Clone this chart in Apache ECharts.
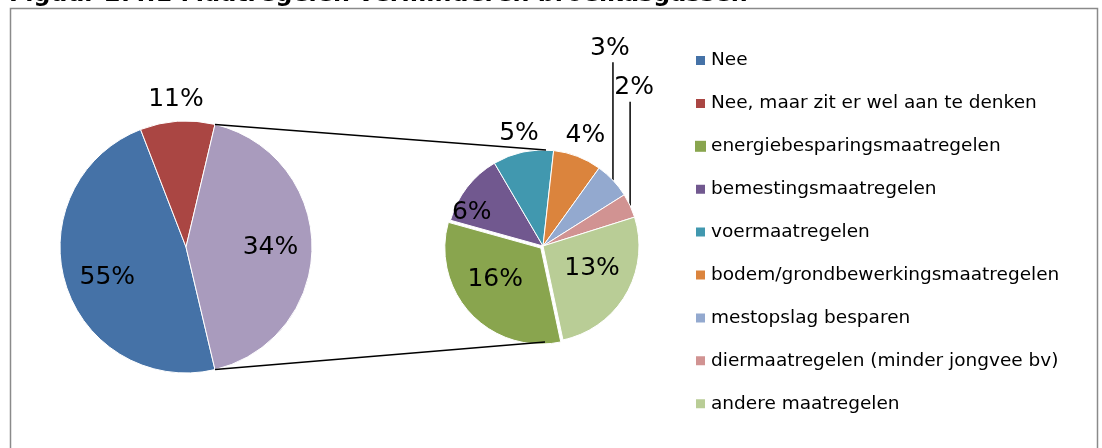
<!DOCTYPE html>
<html>
<head>
<meta charset="utf-8">
<script src="https://cdn.jsdelivr.net/npm/echarts@6/dist/echarts.min.js"></script>
<style>
html, body { margin: 0; padding: 0; background: #fff; }
#main { width: 1102px; height: 448px; }
</style>
</head>
<body>
<div id="main"></div>
<script>
// gegevens
var leftNames = ['Nee', 'Nee, maar zit er wel aan te denken', 'Wel maatregelen'];
var leftPct = [55, 11, 34];
var rightNames = ['energiebesparingsmaatregelen', 'bemestingsmaatregelen', 'voermaatregelen',
	'bodem/grondbewerkingsmaatregelen', 'mestopslag besparen', 'diermaatregelen (minder jongvee bv)',
	'andere maatregelen'];
var rightPct = [16, 6, 5, 4, 3, 2, 13];

// opmaak
var leftColors = ['#4572A7', '#AA4643', '#A99BBD'];
var rightColors = ['#89A54E', '#71588F', '#4198AF', '#DB843D', '#93A9CF', '#D19392', '#B9CD96'];
var leftLabelK = [0.67, 1.17, 0.67];
var leftLabelDA = [4, 0, 0];
var rightLabelK = [0.61, 0.82, 1.2, 1.23, 0, 0, 0.56];
var rightLabelDA = [-8, 12.5, 0, 0, 0, 0, 6];
var rightLift = [0, 0, 0, 0, 132, 118, 0];
var rightLiftDX = [0, 0, 0, 0, -3, 4, 0];
var explodeIdx = 0, explodeBy = 3;   // energiebesparing staat iets los
var leftPie = { cx: 186, cy: 247, r: 126 };
var rightPie = { cx: 543, cy: 246, r: 96, start: -78 };
var font = 'DejaVu Sans';

function sum(a) { return a.reduce(function (s, v) { return s + v; }, 0); }

// linker taart: de "andere" punt is de som van de rechter taart
var leftValues = [leftPct[0], leftPct[1], sum(rightPct)];
leftPie.start = -180 * leftValues[2] / sum(leftValues);

function midAngles(values, start) {
	var total = sum(values), a = start, out = [];
	for (var i = 0; i < values.length; i++) {
		var span = values[i] / total * 360;
		out.push(a - span / 2);
		a -= span;
	}
	return out;
}
function pt(pie, angle, r) {
	var rad = angle * Math.PI / 180;
	return [pie.cx + r * Math.cos(rad), pie.cy - r * Math.sin(rad)];
}

var leftMid = midAngles(leftValues, leftPie.start);
var rightMid = midAngles(rightPct, rightPie.start);
var explodeCenter = pt(rightPie, rightMid[explodeIdx], explodeBy);

var myChart = echarts.init(document.getElementById('main'));

var labelStyle = { position: 'outside', fontSize: 25, color: '#000', fontFamily: font };

var lTop = pt(leftPie, -leftPie.start, leftPie.r);
var lBot = pt(leftPie, leftPie.start, leftPie.r);
var rTop = pt(rightPie, 90, rightPie.r);
var rBot = pt(rightPie, -90, rightPie.r);

var legendData = [];
for (var i = 0; i < 2; i++) legendData.push({ name: leftNames[i], itemStyle: { color: leftColors[i] } });
for (var j = 0; j < rightNames.length; j++) legendData.push({ name: rightNames[j], itemStyle: { color: rightColors[j] } });

myChart.setOption({
	animation: false,
	title: {
		text: 'Figuur 2.4.1 Maatregelen verminderen broeikasgassen',
		left: 9,
		top: -17,
		padding: 0,
		textStyle: { fontSize: 23.8, fontWeight: 'bold', color: '#000', fontFamily: font }
	},
	legend: {
		orient: 'vertical',
		left: 694,
		top: 51,
		itemWidth: 11,
		itemHeight: 11,
		itemGap: 23.9,
		icon: 'rect',
		selectedMode: false,
		padding: 0,
		textStyle: { fontSize: 18.5, color: '#000', fontFamily: font },
		data: legendData
	},
	graphic: [
		{
			type: 'rect', silent: true,
			shape: { x: 10.5, y: 8.5, width: 1087, height: 460 },
			style: { fill: 'none', stroke: '#8a8a8a', lineWidth: 1.5 }
		},
		{
			type: 'line', silent: true, z: 10,
			shape: { x1: lTop[0], y1: lTop[1], x2: rTop[0] + 3, y2: rTop[1] },
			style: { stroke: '#000', lineWidth: 1.5 }
		},
		{
			type: 'line', silent: true, z: 10,
			shape: { x1: lBot[0], y1: lBot[1], x2: rBot[0] + 2, y2: rBot[1] },
			style: { stroke: '#000', lineWidth: 1.5 }
		}
	],
	series: [
		{
			type: 'pie',
			center: [leftPie.cx, leftPie.cy],
			radius: leftPie.r,
			startAngle: leftPie.start,
			clockwise: true,
			avoidLabelOverlap: false,
			selectedMode: false,
			emphasis: { disabled: true },
			itemStyle: { borderColor: '#fff', borderWidth: 1 },
			label: Object.assign({}, labelStyle, {
				formatter: function (p) { return leftPct[p.dataIndex] + '%'; }
			}),
			labelLine: { show: false },
			labelLayout: function (p) {
				var i = p.dataIndex;
				var q = pt(leftPie, leftMid[i] + leftLabelDA[i], leftPie.r * leftLabelK[i]);
				return { x: q[0], y: q[1], align: 'center', verticalAlign: 'middle' };
			},
			data: leftValues.map(function (v, i) {
				return { name: leftNames[i], value: v, itemStyle: { color: leftColors[i] } };
			})
		},
		{
			type: 'pie',
			center: [rightPie.cx, rightPie.cy],
			radius: rightPie.r,
			startAngle: rightPie.start,
			clockwise: true,
			avoidLabelOverlap: false,
			selectedMode: false,
			emphasis: { disabled: true },
			itemStyle: { borderColor: '#fff', borderWidth: 1 },
			label: Object.assign({}, labelStyle, {
				formatter: function (p) { return rightPct[p.dataIndex] + '%'; }
			}),
			labelLine: { show: false, lineStyle: { color: '#000', width: 1.5 } },
			labelLayout: function (p) {
				var i = p.dataIndex;
				if (rightLift[i]) {
					var e = pt(rightPie, rightMid[i], rightPie.r);
					var y = e[1] - rightLift[i];
					return {
						x: e[0] + rightLiftDX[i], y: y, align: 'center', verticalAlign: 'middle',
						labelLinePoints: [[e[0], e[1]], [e[0], (e[1] + y) / 2], [e[0], y + 14]]
					};
				}
				var q = pt(rightPie, rightMid[i] + rightLabelDA[i], rightPie.r * rightLabelK[i]);
				return { x: q[0], y: q[1], align: 'center', verticalAlign: 'middle' };
			},
			data: rightPct.map(function (v, i) {
				var d = { name: rightNames[i], value: v, itemStyle: { color: rightColors[i] } };
				if (rightLift[i]) d.labelLine = { show: true };
				if (i === explodeIdx) d.itemStyle = { color: 'rgba(0,0,0,0)', borderWidth: 0 };
				return d;
			})
		},
		{
			// losgetrokken punt, zelfde taart iets verschoven
			type: 'pie',
			silent: true,
			z: 1,
			center: explodeCenter,
			radius: rightPie.r,
			startAngle: rightPie.start,
			clockwise: true,
			selectedMode: false,
			emphasis: { disabled: true },
			itemStyle: { borderColor: '#fff', borderWidth: 1 },
			label: { show: false },
			labelLine: { show: false },
			data: rightPct.map(function (v, i) {
				return {
					name: rightNames[i], value: v,
					itemStyle: i === explodeIdx ? { color: rightColors[i] } : { color: 'rgba(0,0,0,0)', borderWidth: 0 }
				};
			})
		}
	]
});
</script>
</body>
</html>
